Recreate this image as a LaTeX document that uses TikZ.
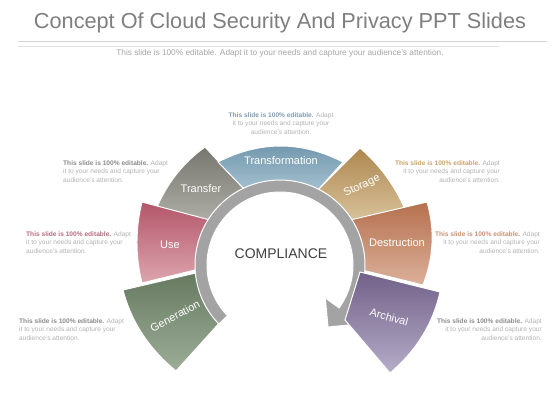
\documentclass[tikz,border=0pt]{standalone}
\usepackage{fontspec}
\setmainfont{Liberation Sans}
\definecolor{trfA}{HTML}{777770}\definecolor{trfB}{HTML}{B0AFA8}
\definecolor{tfmA}{HTML}{6E95AB}\definecolor{tfmB}{HTML}{A4C0CF}
\definecolor{stoA}{HTML}{AE8850}\definecolor{stoB}{HTML}{DCC7A2}
\definecolor{useA}{HTML}{B4566A}\definecolor{useB}{HTML}{DCA5AE}
\definecolor{desA}{HTML}{B5714F}\definecolor{desB}{HTML}{DCB09A}
\definecolor{genA}{HTML}{667A60}\definecolor{genB}{HTML}{9CAD98}
\definecolor{arcA}{HTML}{726088}\definecolor{arcB}{HTML}{B5ADC8}
\definecolor{ringc}{HTML}{A3A3A3}
\definecolor{titlec}{HTML}{7F7F7F}
\definecolor{notec}{HTML}{B3B3B3}
\definecolor{nTop}{HTML}{7F9BB0}
\definecolor{nGray}{HTML}{8C8C8C}
\definecolor{nSto}{HTML}{C8A56E}
\definecolor{nUse}{HTML}{B86B80}
\definecolor{nDes}{HTML}{C99378}
\newcommand{\notetext}[1]{\textcolor{#1}{\textbf{This slide is 100\% editable.}} Adapt\\it to your needs and capture your\\audience's attention.}
\begin{document}
\begin{tikzpicture}[x=1pt,y=-1pt,
  seg/.style={draw=white, line width=1pt},
  lbl/.style={text=white, font=\fontsize{11}{13}\selectfont, inner sep=0pt},
  note/.style={font=\fontsize{6.6}{8.5}\selectfont, text=notec, inner sep=0pt}]
\useasboundingbox (0,0) rectangle (560,420);
\fill[white] (0,0) rectangle (560,420);
% title
\node[font=\fontsize{21.7}{26}\selectfont, text=titlec] (title) at (280,23) {Concept Of Cloud Security And Privacy PPT Slides};
\coordinate (l1a) at (18,41); \coordinate (l1b) at (547,41);
\coordinate (l2a) at (18,46); \coordinate (l2b) at (499,46);
\draw[black!18, line width=0.6pt] (l1a) -- (l1b);
\draw[black!12, line width=0.6pt] (l2a) -- (l2b);
\node[font=\fontsize{8.3}{10}\selectfont, text=black!35] (sub) at (280,53) {This slide is 100\% editable. Adapt it to your needs and capture your audience's attention.};
% segments
\path[seg, top color=trfA, bottom color=trfB] (245,190) -- (205,147) .. controls (182.2,163.5) and (165.5,185.1) .. (155,212) -- (215,225) -- cycle;
\path[seg, top color=stoA, bottom color=stoB] (318,190) -- (360,148) .. controls (383.1,167.9) and (399.7,192.5) .. (410,222) -- (348,228) -- cycle;
\path[seg, top color=tfmA, bottom color=tfmB] (245,190) -- (218,162) .. controls (259.7,140.7) and (301.3,140.7) .. (343,162) -- (318,190) -- cycle;
\path[seg, top color=useA, bottom color=useB] (210,220) -- (142,202) .. controls (135.3,229) and (135.3,256) .. (142,283) -- (195,270) -- cycle;
\path[seg, top color=desA, bottom color=desB] (350,220) -- (427,202) .. controls (435,229.7) and (433.7,257.3) .. (423,285) -- (362,270) -- cycle;
\path[seg, top color=genA, bottom color=genB] (200,272) -- (123,290) .. controls (131.2,321.7) and (148.9,348.7) .. (176,371) -- (222,320) -- cycle;
% ring
\begin{scope}[shift={(280,265)}]
\path[draw=white, line width=1pt, fill=ringc] (136:85) arc[start angle=136, end angle=396, radius=85] -- (36:100) -- (48,62) -- (36:56) -- (36:73) arc[start angle=396, end angle=136, radius=73] -- cycle;
\end{scope}
\path[seg, top color=arcA, bottom color=arcB] (360,272) -- (440,292) .. controls (432.9,323.8) and (416.3,350.8) .. (390,373) -- (345,320) -- cycle;
% labels
\node[lbl] (tTfm) at (281,161) {Transformation};
\node[lbl] (tTrf) at (201,189) {Transfer};
\node[lbl, rotate=25] (tSto) at (362,186) {Storage};
\node[lbl] (tUse) at (170,245) {Use};
\node[lbl] (tDes) at (397,243) {Destruction};
\node[lbl, rotate=28] (tGen) at (175,316) {Generation};
\node[lbl, rotate=-15] (tArc) at (389,317) {Archival};
\node[font=\fontsize{14}{16}\selectfont, text=black!75] (comp) at (281,254) {COMPLIANCE};
% notes
\node[note, align=center, anchor=north] (nT) at (281,112.5) {\notetext{nTop}};
\node[note, align=left, anchor=north west] (nTr) at (63,160.5) {\notetext{nGray}};
\node[note, align=right, anchor=north east] (nS) at (500,160.5) {\notetext{nSto}};
\node[note, align=left, anchor=north west] (nU) at (26,231.5) {\notetext{nUse}};
\node[note, align=right, anchor=north east] (nD) at (540,231.5) {\notetext{nDes}};
\node[note, align=left, anchor=north west] (nG) at (19,318.5) {\notetext{nGray}};
\node[note, align=right, anchor=north east] (nA) at (542,318.5) {\notetext{nGray}};
\end{tikzpicture}
\end{document}
